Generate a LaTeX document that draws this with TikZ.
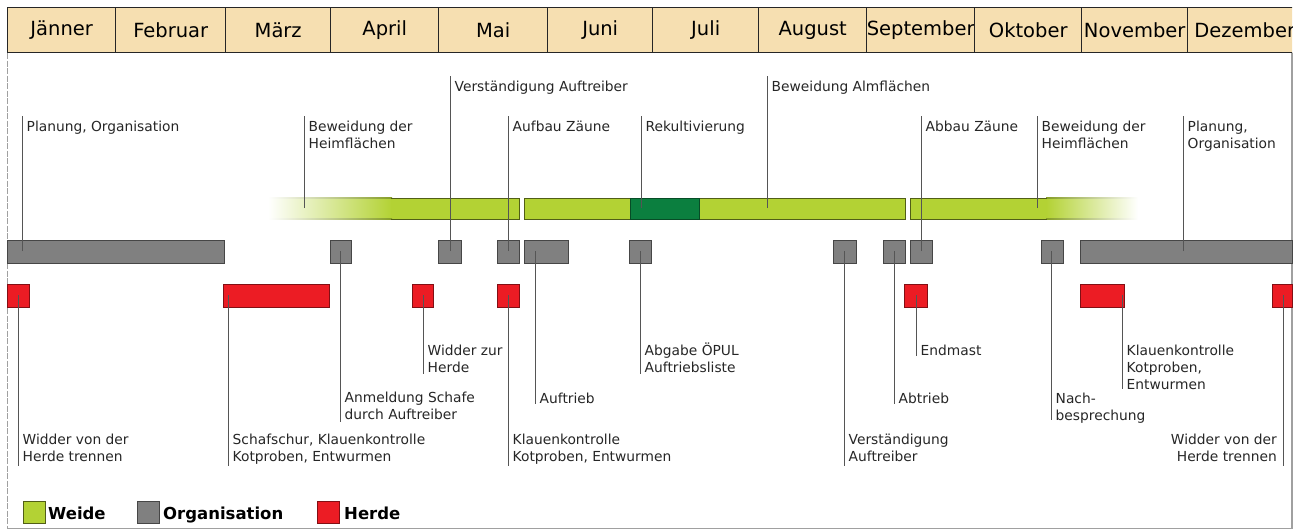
\documentclass[tikz,border=0pt]{standalone}
\usepackage{fontspec}
\setmainfont{DejaVu Sans}
\definecolor{weide}{HTML}{B3D234}
\definecolor{rekult}{HTML}{0B7F3F}
\definecolor{orga}{HTML}{808080}
\definecolor{herde}{HTML}{EC1C24}
\definecolor{headfill}{HTML}{F6DFB1}
\definecolor{linec}{HTML}{555555}
\definecolor{framec}{HTML}{A0A0A0}
\tikzset{
  barbox/.style={anchor=north west, inner sep=0pt, outer sep=0pt, line width=0.8pt},
  wbox/.style={barbox, minimum height=21pt, fill=weide, draw=weide!45!black},
  rbox/.style={barbox, minimum height=21pt, fill=rekult, draw=rekult!60!black},
  obox/.style={barbox, minimum height=23pt, fill=orga, draw=orga!55!black},
  hbox/.style={barbox, minimum height=23pt, fill=herde, draw=herde!55!black},
  wline/.style={draw=weide!45!black, line width=0.8pt},
  callout/.style={draw=linec, line width=0.9pt},
  lbl/.style={anchor=base west, inner sep=0pt, text=black!85, font=\fontsize{13.8}{17.2}\selectfont},
  lblr/.style={anchor=base east, inner sep=0pt, text=black!85, font=\fontsize{13.8}{17.2}\selectfont},
  monthbox/.style={anchor=north west, draw=black!85, line width=1.4pt, fill=headfill,
    minimum height=45pt, inner sep=0pt, font=\fontsize{19.5}{22}\selectfont},
  frameline/.style={draw=framec, line width=1.4pt},
  legsq/.style={anchor=north west, minimum width=22pt, minimum height=22pt, inner sep=0pt, line width=0.8pt},
  legtxt/.style={anchor=base west, inner sep=0pt, font=\fontsize{16.5}{18}\selectfont\bfseries},
}
\newcommand\ml[1]{\vtop{\halign{##\hfil\cr#1\crcr}}}
\newcommand\mr[1]{\vtop{\halign{\hfil##\cr#1\crcr}}}
\newcommand\tlbox[5]{\node[#1, minimum width=#4-#3] (#2) at (#3,#5) {};}
% name, x, y at bar, y at free end, baseline of first text line, text
\newcommand\callout[6]{%
  \coordinate (#1a) at (#2,#3);
  \coordinate (#1b) at (#2,#4);
  \draw[callout] (#1a) -- (#1b);
  \node[lbl] (#1) at (#2+4.5,#5) {\ml{#6}};}
\newcommand\calloutr[6]{%
  \coordinate (#1a) at (#2,#3);
  \coordinate (#1b) at (#2,#4);
  \draw[callout] (#1a) -- (#1b);
  \node[lblr] (#1) at (#2-6,#5) {\mr{#6}};}
\begin{document}
\begin{tikzpicture}[x=1pt,y=-1pt]
\useasboundingbox (0,0) rectangle (1300,530);
% frame
\draw[frameline, dash pattern=on 6pt off 1.5pt] (7.5,53) -- (7.5,528.5);
\draw[frameline] (7.5,528.5) -- (1292,528.5) -- (1292,53);
% header
\node[monthbox, minimum width=108pt] (m01) at (7,7) {Jänner};
\node[monthbox, minimum width=110pt] (m02) at (115,7) {Februar};
\node[monthbox, minimum width=105pt] (m03) at (225,7) {März};
\node[monthbox, minimum width=108pt] (m04) at (330,7) {April};
\node[monthbox, minimum width=109pt] (m05) at (438,7) {Mai};
\node[monthbox, minimum width=105pt] (m06) at (547,7) {Juni};
\node[monthbox, minimum width=106pt] (m07) at (652,7) {Juli};
\node[monthbox, minimum width=108pt] (m08) at (758,7) {August};
\node[monthbox, minimum width=108pt] (m09) at (866,7) {September};
\node[monthbox, minimum width=107pt] (m10) at (974,7) {Oktober};
\node[monthbox, minimum width=106pt] (m11) at (1081,7) {November};
\begin{scope}
\clip (1180,0) rectangle (1292,60);
\node[monthbox, minimum width=114pt] (m12) at (1187,7) {Dezember};
\end{scope}
% Weide row
\shade[left color=white, right color=weide] (268,198) rectangle (392,219);
\fill[weide] (391,198) rectangle (519,219);
\shade[left color=white, right color=weide!75!black] (268,197.7) rectangle (392,198.3);
\shade[left color=white, right color=weide!75!black] (268,218.7) rectangle (392,219.3);
\draw[wline] (391,198) -- (519,198) -- (519,219) -- (391,219);
\coordinate (w1) at (460,208);
\tlbox{wbox}{w2}{524}{905}{198}
\tlbox{rbox}{rek}{630}{699}{198}
\fill[weide] (910,198) rectangle (1047,219);
\shade[left color=weide, right color=white] (1046,198) rectangle (1138,219);
\shade[left color=weide!75!black, right color=white] (1046,197.7) rectangle (1138,198.3);
\shade[left color=weide!75!black, right color=white] (1046,218.7) rectangle (1138,219.3);
\draw[wline] (1047,198) -- (910,198) -- (910,219) -- (1047,219);
\coordinate (w3) at (980,208);
% Organisation row
\tlbox{obox}{o1}{7}{224}{240}
\tlbox{obox}{o2}{330}{351}{240}
\tlbox{obox}{o3}{438}{461}{240}
\tlbox{obox}{o4}{497}{519}{240}
\tlbox{obox}{o5}{524}{568}{240}
\tlbox{obox}{o6}{629}{651}{240}
\tlbox{obox}{o7}{833}{856}{240}
\tlbox{obox}{o8}{883}{905}{240}
\tlbox{obox}{o9}{910}{932}{240}
\tlbox{obox}{o10}{1041}{1063}{240}
\tlbox{obox}{o11}{1080}{1292}{240}
% Herde row
\tlbox{hbox}{h1}{7}{29}{284}
\tlbox{hbox}{h2}{223}{329}{284}
\tlbox{hbox}{h3}{412}{433}{284}
\tlbox{hbox}{h4}{497}{519}{284}
\tlbox{hbox}{h5}{904}{927}{284}
\tlbox{hbox}{h6}{1080}{1124}{284}
\tlbox{hbox}{h7}{1272}{1292}{284}
% upper callouts
\callout{u1}{22}{251}{116}{131}{Planung, Organisation}
\callout{u2}{304}{208}{116}{131}{Beweidung der\cr Heimflächen}
\callout{u3}{450}{251}{76}{91}{Verständigung Auftreiber}
\callout{u4}{508}{251}{116}{131}{Aufbau Zäune}
\callout{u5}{641}{208}{116}{131}{Rekultivierung}
\callout{u6}{767}{208}{76}{91}{Beweidung Almflächen}
\callout{u7}{921}{251}{116}{131}{Abbau Zäune}
\callout{u8}{1037}{208}{116}{131}{Beweidung der\cr Heimflächen}
\callout{u9}{1183}{251}{116}{131}{Planung,\cr Organisation}
% lower callouts
\callout{l1}{18}{295}{466}{444}{Widder von der\cr Herde trennen}
\callout{l2}{228}{295}{466}{444}{Schafschur, Klauenkontrolle\cr Kotproben, Entwurmen}
\callout{l3}{340}{251}{422}{402}{Anmeldung Schafe\cr durch Auftreiber}
\callout{l4}{423}{295}{374}{355}{Widder zur\cr Herde}
\callout{l5}{535}{251}{404}{403}{Auftrieb}
\callout{l6}{508}{295}{466}{444}{Klauenkontrolle\cr Kotproben, Entwurmen}
\callout{l7}{640}{251}{374}{355}{Abgabe ÖPUL\cr Auftriebsliste}
\callout{l8}{844}{251}{466}{444}{Verständigung\cr Auftreiber}
\callout{l9}{916}{295}{356}{355}{Endmast}
\callout{l10}{894}{251}{404}{403}{Abtrieb}
\callout{l11}{1051}{251}{420}{403}{Nach-\cr besprechung}
\callout{l12}{1122}{295}{389}{355}{Klauenkontrolle\cr Kotproben,\cr Entwurmen}
\calloutr{l13}{1283}{295}{466}{444}{Widder von der\cr Herde trennen}
% legend
\node[legsq, fill=weide, draw=weide!45!black] (lgw) at (23,501) {};
\node[legtxt] (lgwt) at (48,519) {Weide};
\node[legsq, fill=orga, draw=orga!55!black] (lgo) at (137,501) {};
\node[legtxt] (lgot) at (163,519) {Organisation};
\node[legsq, fill=herde, draw=herde!55!black] (lgh) at (317,501) {};
\node[legtxt] (lght) at (344,519) {Herde};
\end{tikzpicture}
\end{document}
